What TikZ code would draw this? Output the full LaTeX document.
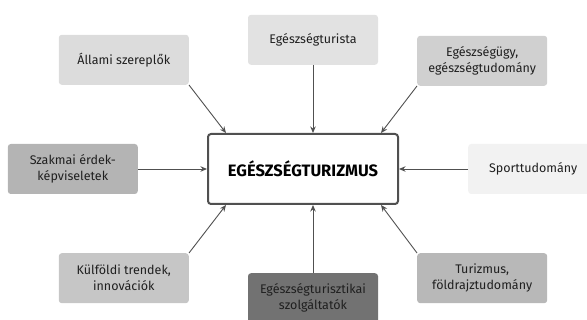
\documentclass[tikz,border=0pt]{standalone}
\usepackage{fontspec}
\setmainfont{Fira Sans}
\usetikzlibrary{positioning,arrows.meta}
\definecolor{tone1}{HTML}{DCDCDC}
\definecolor{tone2}{HTML}{E2E2E2}
\definecolor{tone3}{HTML}{D0D0D0}
\definecolor{tone4}{HTML}{B4B4B4}
\definecolor{tone5}{HTML}{F2F2F2}
\definecolor{tone6}{HTML}{C6C6C6}
\definecolor{tone7}{HTML}{727272}
\definecolor{tone8}{HTML}{B8B8B8}
\definecolor{linegray}{HTML}{505050}
\tikzset{
  factor/.style={rectangle, rounded corners=3pt, minimum width=130pt, minimum height=50pt,
    align=center, font=\fontsize{12.5}{16}\selectfont, text=black!88, inner sep=2pt},
  core/.style={rectangle, rounded corners=3pt, draw=linegray, line width=2pt, fill=white,
    minimum width=190pt, minimum height=70pt, font=\fontsize{16.5}{18}\selectfont\bfseries},
  link/.style={draw=linegray, line width=0.9pt, -{Stealth[length=6.5pt,width=5.5pt]}}
}
\begin{document}
\begin{tikzpicture}[x=1pt,y=-1pt]
    \useasboundingbox (0,0) rectangle (587,320);
    \node[core] (center) at (303,169) {EGÉSZSÉGTURIZMUS};

    \node[factor, fill=tone1] (allami) [above left=48pt and 18pt of center] {Állami szereplők};
    \node[factor, fill=tone2] (turista) [above=68pt of center, xshift=10pt] {Egészségturista};
    \node[factor, fill=tone3] (egeszsegugy) [above right=47pt and 18pt of center] {Egészségügy,\\egészségtudomány};
    \node[factor, fill=tone4] (szakmai) [left=69pt of center] {Szakmai érdek-\\képviseletek};
    \node[factor, fill=tone5] (sport) [right=69pt of center] {Sporttudomány};
    \node[factor, fill=tone6] (kulfoldi) [below left=48pt and 18pt of center] {Külföldi trendek,\\innovációk};
    \node[factor, fill=tone7] (szolg) [below=68pt of center, xshift=10pt] {Egészségturisztikai\\szolgáltatók};
    \node[factor, fill=tone8] (turizmus) [below right=48pt and 18pt of center] {Turizmus,\\földrajztudomány};

    \path[link] (allami.south east) -- ([xshift=19pt]center.north west);
    \path[link] (turista) -- (turista |- center.north);
    \path[link] (egeszsegugy.south west) -- ([xshift=-18pt]center.north east);
    \path[link] (szakmai) -- (center);
    \path[link] (sport) -- (center);
    \path[link] (kulfoldi.north east) -- ([xshift=19pt]center.south west);
    \path[link] (szolg) -- (szolg |- center.south);
    \path[link] (turizmus.north west) -- ([xshift=-18pt]center.south east);
\end{tikzpicture}
\end{document}
